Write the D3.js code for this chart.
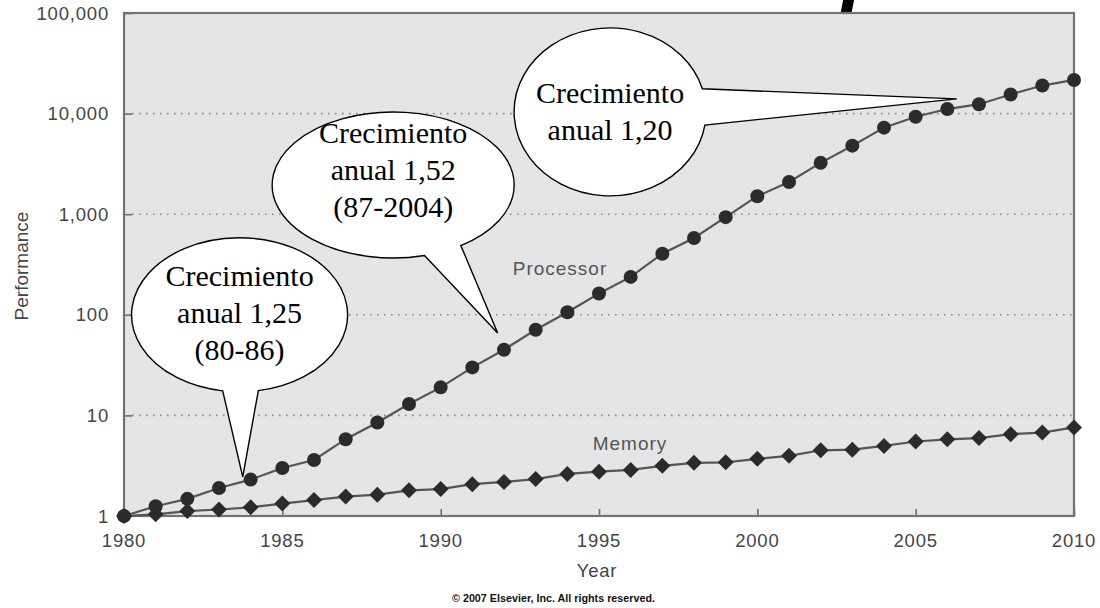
<!DOCTYPE html>
<html>
<head>
<meta charset="utf-8">
<script src="https://cdn.jsdelivr.net/npm/d3@7"></script>
<style>
  body { margin: 0; background: #fff; }
  svg { display: block; }
  .sans { font-family: "Liberation Sans", Arial, Helvetica, sans-serif; fill: #454545; }
  .serif { font-family: "Liberation Serif", "Times New Roman", serif; fill: #000; }
</style>
</head>
<body>
<div id="chart"></div>
<script>
// values
var years = [1980, 1981, 1982, 1983, 1984, 1985, 1986, 1987, 1988, 1989,
             1990, 1991, 1992, 1993, 1994, 1995, 1996, 1997, 1998, 1999,
             2000, 2001, 2002, 2003, 2004, 2005, 2006, 2007, 2008, 2009, 2010];
var processor = [1, 1.25, 1.48, 1.9, 2.3, 3.0, 3.6, 5.8, 8.5, 13,
                 19, 30, 45, 71, 106, 163, 238, 405, 580, 935,
                 1510, 2090, 3240, 4800, 7250, 9300, 11100, 12400, 15500, 19000, 21600];
var memory = [1, 1.04, 1.12, 1.16, 1.22, 1.33, 1.44, 1.56, 1.63, 1.8,
              1.85, 2.07, 2.18, 2.33, 2.62, 2.76, 2.87, 3.15, 3.38, 3.42,
              3.7, 3.96, 4.5, 4.56, 4.97, 5.5, 5.78, 5.95, 6.5, 6.75, 7.6];
var yTicks = [1, 10, 100, 1000, 10000, 100000];
var xTicks = [1980, 1985, 1990, 1995, 2000, 2005, 2010];
var seriesNames = ["Processor", "Memory"];

// callout texts (speech bubbles)
var bubbleText = [
  ["Crecimiento", "anual 1,52", "(87-2004)"],
  ["Crecimiento", "anual 1,25", "(80-86)"],
  ["Crecimiento", "anual 1,20"]
];
// where each bubble sits, in data space (year, value); radii / tail angles in px / degrees
var bubbleLayout = [
  {at: [1988.5, 1950], rx: 121, ry: 73, base: [56, 75], tip: [1991.8, 66], dy: -52},
  {at: [1983.65, 100], rx: 108, ry: 77, base: [80, 99], tip: [1983.75, 2.45], dy: -39},
  {at: [1995.35, 10400], rx: 96, ry: 84, base: [-16, 9], tip: [2006.3, 14000], dy: -19}
];

var W = 1100, H = 608;
var svg = d3.select("#chart").append("svg")
  .attr("width", W).attr("height", H);

var x = d3.scaleLinear().domain([1980, 2010]).range([124, 1074]);
var y = d3.scaleLog().domain([1, 100000]).range([516, 13]);

// what is left of a cropped title above the frame
svg.append("text")
  .attr("x", 842).attr("y", -2)
  .style("font-family", "'Liberation Sans', Arial, sans-serif")
  .style("font-weight", "bold").style("font-style", "italic")
  .style("font-size", "80px").style("fill", "#000")
  .text("p");

// plot background
svg.append("rect")
  .attr("x", x(1980)).attr("y", y(100000))
  .attr("width", x(2010) - x(1980)).attr("height", y(1) - y(100000))
  .style("fill", "#e4e5e7");

// dotted gridlines
svg.append("g").selectAll("line")
  .data(yTicks.slice(1, -1))
  .enter().append("line")
  .attr("x1", x(1980) + 8).attr("x2", x(2010))
  .attr("y1", function(d) { return y(d); })
  .attr("y2", function(d) { return y(d); })
  .style("stroke", "#8a8a8a").style("stroke-width", 1.6)
  .style("stroke-dasharray", "1.6,5.4");

// y axis: inward ticks, labels on the left
var yAxis = svg.append("g")
  .attr("transform", "translate(" + x(1980) + ",0)")
  .call(d3.axisRight(y).tickValues(yTicks).tickSize(8).tickFormat(""));
yAxis.select(".domain").remove();
yAxis.selectAll("line").style("stroke", "#6e6e6e").style("stroke-width", 1.6);

svg.append("g").selectAll("text")
  .data(yTicks)
  .enter().append("text")
  .attr("class", "sans")
  .attr("x", 109)
  .attr("y", function(d) { return y(d) + 6.5; })
  .attr("text-anchor", "end")
  .style("font-size", "18.5px").style("letter-spacing", "0.8px")
  .text(d3.format(","));

// x axis: inward ticks
var xAxis = svg.append("g")
  .attr("transform", "translate(0," + y(1) + ")")
  .call(d3.axisTop(x).tickValues(xTicks).tickSize(7).tickFormat(""));
xAxis.select(".domain").remove();
xAxis.selectAll("line").style("stroke", "#6e6e6e").style("stroke-width", 1.6);

svg.append("g").selectAll("text")
  .data(xTicks)
  .enter().append("text")
  .attr("class", "sans")
  .attr("x", function(d) { return x(d); })
  .attr("y", 547)
  .attr("text-anchor", "middle")
  .style("font-size", "18.5px").style("letter-spacing", "0.8px")
  .text(function(d) { return d; });

// frame
svg.append("rect")
  .attr("x", x(1980)).attr("y", y(100000))
  .attr("width", x(2010) - x(1980)).attr("height", y(1) - y(100000))
  .style("fill", "none").style("stroke", "#737373").style("stroke-width", 2.2);

// axis titles
svg.append("text").attr("class", "sans")
  .attr("x", 597).attr("y", 577)
  .attr("text-anchor", "middle").style("font-size", "18.5px").style("letter-spacing", "0.8px")
  .text("Year");

svg.append("text").attr("class", "sans")
  .attr("transform", "translate(28,266) rotate(-90)")
  .attr("text-anchor", "middle").style("font-size", "19px")
  .text("Performance");

svg.append("text").attr("class", "sans")
  .attr("x", 452).attr("y", 602)
  .attr("textLength", 203).attr("lengthAdjust", "spacingAndGlyphs")
  .style("font-size", "11px").style("font-weight", "bold").style("fill", "#111")
  .text("\u00a9 2007 Elsevier, Inc. All rights reserved.");

// series
var line = d3.line()
  .x(function(d, i) { return x(years[i]); })
  .y(function(d) { return y(d); });

svg.append("path").datum(memory)
  .attr("d", line)
  .style("fill", "none").style("stroke", "#555").style("stroke-width", 2.2);

svg.append("path").datum(processor)
  .attr("d", line)
  .style("fill", "none").style("stroke", "#555").style("stroke-width", 2.2);

svg.append("g").selectAll("path")
  .data(memory)
  .enter().append("path")
  .attr("d", "M0,-8L8,0L0,8L-8,0Z")
  .attr("transform", function(d, i) { return "translate(" + x(years[i]) + "," + y(d) + ")"; })
  .style("fill", "#2b2b2b");

svg.append("g").selectAll("circle")
  .data(processor)
  .enter().append("circle")
  .attr("cx", function(d, i) { return x(years[i]); })
  .attr("cy", function(d) { return y(d); })
  .attr("r", 7)
  .style("fill", "#2b2b2b");

// series labels
svg.append("text").attr("class", "sans")
  .attr("x", 560).attr("y", 275)
  .attr("text-anchor", "middle").style("font-size", "19px").style("letter-spacing", "1px")
  .style("fill", "#555")
  .text(seriesNames[0]);

svg.append("text").attr("class", "sans")
  .attr("x", 630).attr("y", 450)
  .attr("text-anchor", "middle").style("font-size", "19px").style("letter-spacing", "1px")
  .style("fill", "#555")
  .text(seriesNames[1]);

// speech bubbles
function bubblePath(b) {
  var cx = x(b.at[0]), cy = y(b.at[1]);
  var rad = Math.PI / 180;
  var p1 = [cx + b.rx * Math.cos(b.base[0] * rad), cy + b.ry * Math.sin(b.base[0] * rad)];
  var p2 = [cx + b.rx * Math.cos(b.base[1] * rad), cy + b.ry * Math.sin(b.base[1] * rad)];
  var tip = [x(b.tip[0]), y(b.tip[1])];
  return "M" + p2 + "A" + b.rx + "," + b.ry + " 0 1 1 " + p1 + "L" + tip + "Z";
}

var bubble = svg.append("g").selectAll("g")
  .data(bubbleLayout)
  .enter().append("g");

bubble.append("path")
  .attr("d", bubblePath)
  .style("fill", "#fff").style("stroke", "#000").style("stroke-width", 1.4)
  .style("stroke-linejoin", "miter");

bubble.each(function(b, k) {
  d3.select(this).selectAll("text")
    .data(bubbleText[k])
    .enter().append("text")
    .attr("class", "serif")
    .attr("x", x(b.at[0]))
    .attr("y", function(t, j) { return y(b.at[1]) + b.dy + j * 37 + 10; })
    .attr("text-anchor", "middle")
    .style("font-size", "30px")
    .text(function(t) { return t; });
});
</script>
</body>
</html>
